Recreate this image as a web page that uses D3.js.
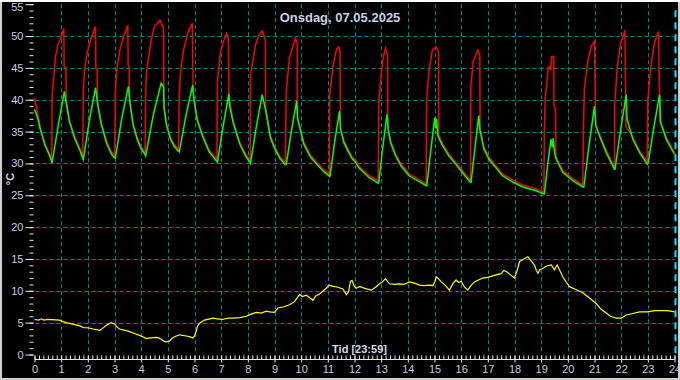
<!DOCTYPE html>
<html><head><meta charset="utf-8">
<script src="https://cdn.jsdelivr.net/npm/d3@7"></script>
<style>html,body{margin:0;padding:0;background:#000;}svg{display:block;}</style>
</head><body>
<script>
const titleText = "Onsdag, 07.05.2025";
const xLabelText = "Tid [23:59]";
const yLabelText = "°C";
const xTickLabels = d3.range(0, 25);
const yTickLabels = d3.range(0, 56, 5);

// red series [hour, °C]
const redSeries = [
[0,40.3],[0.1,38.2],[0.22,35.6],[0.4,33],[0.58,31.4],[0.65,30.4],
[0.66,40.5],[0.72,43.4],[0.79,46.8],[0.88,48.6],[1.0,49.9],[1.1,51.2],[1.11,45.2],[1.18,45],[1.19,40],[1.3,36.9],[1.5,34.3],[1.69,32.5],[1.81,31.1],
[1.83,41.3],[1.88,44.9],[2.0,47.8],[2.12,49.6],[2.29,51.5],[2.3,45],[2.35,44.8],[2.36,39.8],[2.5,36.5],[2.7,33.5],[2.88,31.8],[3.01,31.2],
[3.03,41],[3.08,44.5],[3.2,47.8],[3.35,50],[3.5,51.7],[3.51,45.5],[3.55,45],[3.56,39.8],[3.7,36.3],[3.85,34.1],[4.0,32.6],[4.15,31.6],
[4.17,41],[4.2,44.4],[4.38,49.4],[4.5,51.5],[4.71,52.5],[4.84,51.2],[4.85,39],[4.95,36.3],[5.1,34.1],[5.25,32.9],[5.4,32.2],
[5.43,41],[5.48,44.5],[5.6,48],[5.75,50.5],[5.92,52],[5.95,41],[6.0,39.6],[6.1,37.1],[6.3,34.6],[6.55,32.1],[6.84,30.6],
[6.86,42.9],[6.98,47.6],[7.1,49.3],[7.2,50.4],[7.27,49.6],[7.29,40.6],[7.45,36.7],[7.7,33.3],[7.9,31.6],[8.09,30.4],
[8.1,43.9],[8.29,48.6],[8.4,50],[8.54,50.8],[8.66,49.4],[8.67,38.7],[8.85,34.3],[9.0,32.7],[9.2,31.1],[9.41,30.1],
[9.44,41.3],[9.56,46.5],[9.7,48.6],[9.79,49.6],[9.85,49],[9.86,37.2],[10.1,33.3],[10.35,31.3],[10.6,30.1],[10.85,29],[11.06,28.3],
[11.07,40.8],[11.2,45.5],[11.33,48],[11.41,48.3],[11.46,47.5],[11.47,35.6],[11.6,33.6],[11.75,32.3],[11.9,31.1],[12.04,30.5],[12.16,29.6],[12.54,28.1],[12.89,27.3],
[12.91,39.7],[12.98,42.9],[13.07,46.5],[13.16,48.1],[13.24,47],[13.25,35.8],[13.35,33.6],[13.54,31.5],[13.75,29.9],[14.04,28.4],[14.69,26.8],
[14.7,39.7],[14.79,44.4],[14.92,47.8],[15.06,48.3],[15.15,47.5],[15.16,34.5],[15.3,33.1],[15.54,31.5],[16.04,28.9],[16.35,27.3],
[16.36,41.8],[16.45,46],[16.63,47.8],[16.7,47],[16.71,35.6],[16.85,32.6],[17.04,31],[17.54,28.4],[17.97,27.3],[18.31,26.6],[18.81,26],[19.1,25.5],
[19.12,35],[19.15,40.3],[19.22,42.9],[19.27,45.1],[19.33,45.2],[19.35,44.6],[19.4,46.8],[19.47,46.8],[19.48,39],[19.54,38.5],[19.55,31.1],[19.81,28.9],[20.19,27.6],[20.56,26.6],
[20.59,36.1],[20.62,41.8],[20.75,46],[20.87,48.3],[21.0,49.2],[21.03,40.5],[21.04,35.9],[21.19,34.6],[21.44,32],[21.75,29.4],
[21.76,39.2],[21.85,44.9],[21.97,48.6],[22.14,50.9],[22.17,40.5],[22.18,35.8],[22.44,34.1],[22.69,32],[22.98,30.2],
[23.0,40],[23.12,45.5],[23.25,48.9],[23.4,50.7],[23.44,40.8],[23.45,36.6],[23.69,34.1],[24,31.7]
];

// green series [hour, °C]
const greenSeries = [
[0,38.5],[0.1,37.4],[0.22,35.3],[0.4,32.8],[0.58,31.1],[0.66,30.1],
[0.9,36.2],[1.12,41.3],[1.18,39.7],[1.31,36.6],[1.5,34],[1.69,32.2],[1.81,30.8],
[1.83,30.6],[2.06,36.8],[2.29,41.9],[2.36,39.5],[2.5,36.2],[2.7,33.2],[2.88,31.5],[3.0,30.9],
[3.03,30.8],[3.27,37],[3.52,42.1],[3.58,39.6],[3.7,36],[3.85,33.8],[4.0,32.3],[4.16,31.3],
[4.17,31.2],[4.45,37.5],[4.75,42.6],[4.84,42],[4.86,38.7],[4.95,36],[5.1,33.8],[5.25,32.6],[5.4,31.9],
[5.43,31.8],[5.68,37.5],[5.93,42.3],[5.98,40],[6.1,36.8],[6.3,34.3],[6.55,31.8],[6.84,30.3],
[6.86,30.2],[7.08,36],[7.29,40.9],[7.32,39],[7.45,36.4],[7.7,33],[7.9,31.3],[8.09,30.1],
[8.1,30],[8.32,35.8],[8.54,40.8],[8.66,38.5],[8.85,34],[9.0,32.4],[9.2,30.8],[9.41,29.8],
[9.44,29.8],[9.63,35],[9.83,39.8],[9.87,37],[10.1,33],[10.35,31],[10.6,29.8],[10.85,28.7],[11.06,28],
[11.08,28],[11.26,33.5],[11.44,38.2],[11.48,35.3],[11.6,33.3],[11.75,32],[11.9,30.8],[12.04,30.2],[12.16,29.3],[12.54,27.8],[12.89,26.9],
[12.91,27],[13.06,32.5],[13.22,37.7],[13.26,35.5],[13.35,33.3],[13.54,31.2],[13.75,29.6],[14.04,28.1],[14.69,26.5],
[14.71,26.5],[14.86,32],[15.01,37.2],[15.05,35.5],[15.08,37],[15.12,34.5],[15.16,34],[15.3,32.8],[15.54,31.2],[16.04,28.6],[16.35,27],
[16.37,27],[16.52,32.5],[16.66,37.5],[16.7,35.3],[16.85,32.3],[17.04,30.7],[17.54,28.1],[17.97,27],[18.31,26.3],[18.81,25.7],[19.1,25.2],
[19.12,25.2],[19.25,30],[19.37,33.8],[19.42,32.5],[19.45,34],[19.5,31.8],[19.55,30.8],[19.81,28.6],[20.19,27.3],[20.56,26.3],
[20.6,26.3],[20.8,33],[21.0,39],[21.05,36],[21.19,34.3],[21.44,31.7],[21.75,29.1],
[21.77,29.1],[21.97,35],[22.19,40.8],[22.22,37],[22.44,33.8],[22.69,31.7],[22.98,29.9],
[23.01,30],[23.22,35.5],[23.44,40.8],[23.48,36.5],[23.69,33.8],[24,31.4]
];

// yellow series [hour, °C]
const yellowSeries = [
[0,5.5],[0.15,5.4],[0.25,5.6],[0.35,5.4],[0.5,5.5],[0.94,5.4],[1.05,5.2],[1.19,5.0],[1.4,4.8],[1.7,4.5],[1.85,4.2],[2.0,4.2],[2.2,4.0],[2.44,3.8],[2.55,4.1],[2.7,4.6],[2.87,5.0],[3.0,4.8],[3.1,4.3],[3.19,4.0],[3.4,3.8],[3.56,3.6],[3.75,3.3],[3.94,3.0],[4.1,2.7],[4.19,2.5],[4.35,2.6],[4.56,2.7],[4.65,2.6],[4.75,2.4],[4.85,2.1],[4.94,2.0],[5.06,2.1],[5.15,2.5],[5.25,2.8],[5.44,3.1],[5.55,3.0],[5.69,2.9],[5.81,2.8],[5.94,2.6],[6.0,2.9],[6.06,3.6],[6.12,4.5],[6.19,4.9],[6.38,5.4],[6.69,5.7],[6.85,5.6],[7.06,5.5],[7.25,5.7],[7.44,5.7],[7.7,5.8],[7.94,6.0],[8.1,6.3],[8.31,6.6],[8.5,6.5],[8.7,6.8],[8.81,6.7],[9.0,6.6],[9.13,7.3],[9.35,7.5],[9.56,7.8],[9.75,8.3],[9.85,8.9],[9.94,9.4],[10.05,9.1],[10.19,9.3],[10.3,9.0],[10.44,8.5],[10.55,9.2],[10.69,9.5],[10.8,9.9],[10.94,10.4],[11.05,10.9],[11.19,10.7],[11.35,10.6],[11.56,10.3],[11.7,9.4],[11.78,9.9],[11.85,11.5],[11.91,11.6],[11.98,10.8],[12.06,10.4],[12.2,10.7],[12.31,10.5],[12.45,10.3],[12.63,10.1],[12.8,10.6],[12.94,11.1],[13.05,11.4],[13.16,11.9],[13.31,11.1],[13.5,11.0],[13.69,11.1],[13.85,11.0],[14.06,11.4],[14.25,11.2],[14.44,10.9],[14.6,10.8],[14.81,10.9],[14.94,10.8],[15.02,11.5],[15.06,12.2],[15.15,11.9],[15.25,11.4],[15.4,10.9],[15.56,10.1],[15.7,11.2],[15.81,11.7],[15.9,11.3],[16.0,11.5],[16.12,10.6],[16.25,10.1],[16.38,10.9],[16.5,11.4],[16.65,11.7],[16.81,12.0],[17.0,12.1],[17.15,12.3],[17.31,12.5],[17.5,12.7],[17.6,13.2],[17.71,13.0],[17.85,12.5],[18.0,12.0],[18.1,13.2],[18.19,14.6],[18.35,15.0],[18.5,15.35],[18.6,14.8],[18.75,14.05],[18.82,13.2],[18.88,12.75],[18.95,13.3],[19.06,13.5],[19.2,13.9],[19.38,14.05],[19.5,13.3],[19.6,14.05],[19.7,13.2],[19.81,12.2],[19.95,11.3],[20.06,10.65],[20.3,10.2],[20.56,9.7],[20.8,8.9],[21.06,8.0],[21.25,7.1],[21.44,6.5],[21.6,6.0],[21.81,5.7],[22.0,5.7],[22.19,6.2],[22.4,6.4],[22.69,6.7],[23.0,6.7],[23.25,6.9],[23.5,6.9],[23.69,6.9],[23.85,6.8],[24.0,6.7]
];

const W = 680, H = 380;
const svg = d3.select("body").append("svg").attr("width", W).attr("height", H)
  .style("background", "#000");

const x = d3.scaleLinear().domain([0, 24]).range([34.5, 674.5]);
const y = d3.scaleLinear().domain([0, 55]).range([354.5, 4.2]);

const gridColor = "#008a8e";
const labelColor = "#c4d0e0";

// grid
const grid = svg.append("g");
grid.selectAll("line.h").data(yTickLabels.filter(v => v > 0 && v < 55)).enter().append("line")
  .attr("x1", x(0) + 1).attr("x2", x(24)).attr("y1", d => Math.round(y(d)) + 0.5).attr("y2", d => Math.round(y(d)) + 0.5)
  .attr("stroke", gridColor).attr("stroke-width", 1).attr("stroke-dasharray", "4,3");
grid.selectAll("line.v").data(xTickLabels.filter(v => v > 0 && v < 24)).enter().append("line")
  .attr("x1", d => Math.round(x(d)) + 0.5).attr("x2", d => Math.round(x(d)) + 0.5)
  .attr("y1", y(55)).attr("y2", y(0))
  .attr("stroke", gridColor).attr("stroke-width", 1).attr("stroke-dasharray", "4,3");

// current time marker
svg.append("line")
  .attr("x1", x(24) + 1).attr("x2", x(24) + 1).attr("y1", y(55) + 6).attr("y2", y(0))
  .attr("stroke", "#00e8ff").attr("stroke-width", 2).attr("stroke-dasharray", "7,5");

// y axis major + minor
const yMajor = d3.axisLeft(y).tickValues(yTickLabels).tickSize(8).tickPadding(2).tickFormat(d3.format("d"));
const yMinor = d3.axisLeft(y).tickValues(d3.range(0, 56, 1)).tickSize(4).tickFormat("");
const gyMinor = svg.append("g").attr("transform", "translate(33.5,0)").call(yMinor);
const gyMajor = svg.append("g").attr("transform", "translate(33.5,0)").call(yMajor);
[gyMinor, gyMajor].forEach(g => {
  g.select(".domain").remove();
  g.selectAll("line").attr("stroke", "#e8e8e8");
  g.selectAll("text").attr("fill", labelColor).style("font-family", "'Liberation Sans', Arial, sans-serif").style("font-size", "11px");
});
gyMajor.selectAll(".tick").filter(d => d === 55).select("text").attr("y", 3);

// x axis major + minor
const xMajor = d3.axisBottom(x).tickValues(xTickLabels).tickSize(7).tickPadding(3).tickFormat(d3.format("d"));
const xMinor = d3.axisBottom(x).tickValues(d3.range(0, 24.01, 1/6)).tickSize(4).tickFormat("");
const gxMinor = svg.append("g").attr("transform", "translate(0,355.5)").call(xMinor);
const gxMajor = svg.append("g").attr("transform", "translate(0,355.5)").call(xMajor);
[gxMinor, gxMajor].forEach(g => {
  g.select(".domain").remove();
  g.selectAll("line").attr("stroke", "#e8e8e8");
  g.selectAll("text").attr("fill", labelColor).style("font-family", "'Liberation Sans', Arial, sans-serif").style("font-size", "11px");
});
svg.append("line").attr("x1", x(0)).attr("x2", x(24)).attr("y1", 359.5).attr("y2", 359.5)
  .attr("stroke", "#e8e8e8").attr("stroke-width", 1);

// series
const line = d3.line().x(d => x(d[0])).y(d => y(d[1]));
svg.append("path").datum(redSeries).attr("d", line).attr("fill", "none")
  .attr("stroke", "#ff0000").attr("stroke-width", 1.5).attr("stroke-linejoin", "miter");
svg.append("path").datum(greenSeries).attr("d", line).attr("fill", "none")
  .attr("stroke", "#00ff00").attr("stroke-width", 1.5);
svg.append("path").datum(yellowSeries).attr("d", line).attr("fill", "none")
  .attr("stroke", "#ffff00").attr("stroke-width", 1.2);

// texts
svg.append("text").attr("x", 340).attr("y", 22).attr("text-anchor", "middle")
  .attr("fill", "#c8d0e2").style("font-family", "'Liberation Sans', Arial, sans-serif")
  .style("font-size", "13px").style("font-weight", "bold").text(titleText);
svg.append("text").attr("x", 359.5).attr("y", 353).attr("text-anchor", "middle")
  .attr("fill", "#d8dce8").style("font-family", "'Liberation Sans', Arial, sans-serif")
  .style("font-size", "11px").style("font-weight", "bold").text(xLabelText);
svg.append("text").attr("transform", "translate(14,179) rotate(-90)").attr("text-anchor", "middle")
  .attr("fill", "#d8dce8").style("font-family", "'Liberation Sans', Arial, sans-serif")
  .style("font-size", "11px").style("font-weight", "bold").text(yLabelText);

// frame
svg.append("rect").attr("x", 1).attr("y", 1).attr("width", W - 2).attr("height", H - 2)
  .attr("fill", "none").attr("stroke", "#d0d0d0").attr("stroke-width", 2);
svg.append("line").attr("x1", 0).attr("x2", W).attr("y1", 1).attr("y2", 1)
  .attr("stroke", "#ffffff").attr("stroke-width", 2);
</script>
</body></html>
